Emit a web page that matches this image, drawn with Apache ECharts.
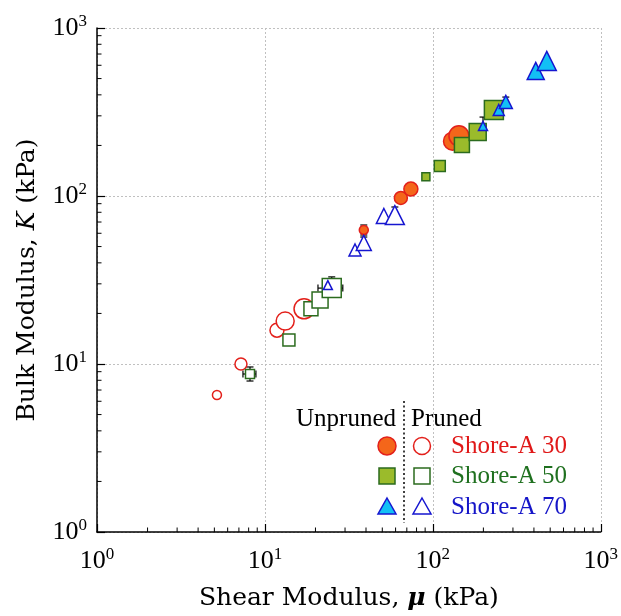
<!DOCTYPE html>
<html><head><meta charset="utf-8">
<script src="https://cdn.jsdelivr.net/npm/echarts@6/dist/echarts.min.js"></script>
<style>html,body{margin:0;padding:0;background:#fff}#c{width:621px;height:616px}</style>
</head><body><div id="c"></div>
<script>
// ---- data (shear modulus mu, bulk modulus K in kPa) ----
const s30UnprunedMu = [38.8, 64.5, 74, 131, 143];
const s30UnprunedK  = [62.8, 97.3, 110, 212, 228];
const s30PrunedMu   = [5.18, 7.2, 11.8, 13.2, 17.1];
const s30PrunedK    = [6.54, 10.0, 15.9, 18.0, 21.3];
const s50UnprunedMu = [90.9, 110, 149, 185, 231];
const s50UnprunedK  = [130, 151, 201, 240, 325];
const s50PrunedMu   = [8.15, 13.9, 18.8, 21.3, 25.0];
const s50PrunedK    = [8.72, 13.9, 21.3, 24.0, 28.3];
const s70UnprunedMu = [199, 247, 272, 410, 477];
const s70UnprunedK  = [261, 325, 363, 555, 637];
const s70PrunedMu   = [23.7, 34.4, 38.8, 51.1, 59.4];
const s70PrunedK    = [29.5, 47.7, 52.5, 76, 77];

// error bars
const errMu   = [8.15, 38.8, 38.8, 25.0, 199, 272, 59.4];
const errK    = [8.72, 62.8, 52.5, 28.3, 261, 363, 77];
const errMuLo = [7.4, null, null, 20.7, null, null, null];
const errMuHi = [8.84, null, null, 29.1, null, null, null];
const errKLo  = [7.92, 58.6, 48.4, 25.5, 248, 345, 72];
const errKHi  = [9.6, 67.2, 57.0, 33.0, 295, 388, 86];

// axis ticks
const axisMin = 1, axisMax = 1000;
const minorTickValues = [2,3,4,5,6,7,8,9,20,30,40,50,60,70,80,90,200,300,400,500,600,700,800,900];

// ---- styles (kept separate) ----
const sizes = {
  s30U: [9, 13, 14, 18, 20], s30P: [9, 12, 14, 18, 20],
  s50U: [8, 11, 15, 17, 19], s50P: [9, 12, 14, 16, 19],
  s70U: [9, 11, 13, 17, 19], s70P: [9, 12, 15, 15, 19]
};
const FONT = '"Liberation Serif", "DejaVu Serif", serif';
const NFONT = '"DejaVu Serif", "Liberation Serif", serif';
const C = {
  orange: '#f4661a', red: '#e3201b', redText: '#e01818',
  green: '#9bbb2b', dgreen: '#2b6b1e', greenText: '#1f701f',
  cyan: '#12c0f5', blue: '#1616d0', blueText: '#1515c8'
};

function pts(xs, ys){ return xs.map((x,i)=>[x, ys[i]]); }
function scat(name, xs, ys, sz, symbol, fill, stroke, z){
  return {
    type:'scatter', name, data: pts(xs, ys), z,
    symbol, symbolSize: (v, p) => sz[p.dataIndex],
    itemStyle: { color: fill, borderColor: stroke, borderWidth: 1.5, opacity: 1 },
    emphasis: { disabled: true }, silent: true
  };
}

const chart = echarts.init(document.getElementById('c'), null, {renderer:'canvas'});

const supLabel = v => {
  const e = Math.round(Math.log10(v));
  return '{b|10}{s|' + e + '}';
};
const labelRich = {
  b: { fontSize: 26, fontFamily: FONT, color: '#000', lineHeight: 30 },
  s: { fontSize: 17, fontFamily: FONT, color: '#000', verticalAlign: 'top', lineHeight: 18 }
};

function baseAxis(){
  return {
    type: 'log', logBase: 10, min: axisMin, max: axisMax,
    axisLine: { show: true, onZero: false, lineStyle: { color: '#000', width: 1.5 } },
    axisTick: { show: true, inside: true, length: 8, lineStyle: { color: '#000', width: 1.2 } },
    splitLine: { show: true, lineStyle: { color: '#c0c0c0', type: [2, 2], width: 1 } },
    axisLabel: { formatter: supLabel, rich: labelRich }
  };
}

const xAxis = Object.assign(baseAxis(), {
  name: '{n|Shear Modulus, }{m|μ}{n| (kPa)}',
  nameLocation: 'middle', nameGap: 54,
  nameTextStyle: { rich: {
    n: { fontSize: 25, fontFamily: NFONT, color: '#000', fontWeight: 300 },
    m: { fontSize: 25, fontFamily: NFONT, color: '#000', fontStyle: 'italic', fontWeight: 'bold' }
  }}
});
xAxis.axisLabel = Object.assign({}, xAxis.axisLabel, { margin: 14 });

const yAxis = Object.assign(baseAxis(), {
  name: '{n|Bulk Modulus, }{m|K}{n| (kPa)}',
  nameLocation: 'middle', nameGap: 57, nameRotate: 90,
  nameTextStyle: { rich: {
    n: { fontSize: 25, fontFamily: NFONT, color: '#000', fontWeight: 300 },
    m: { fontSize: 25, fontFamily: NFONT, color: '#000', fontStyle: 'italic' }
  }}
});
yAxis.axisLabel = Object.assign({}, yAxis.axisLabel, { margin: 10 });

const errSeries = {
  type: 'custom', z: 1, silent: true, clip: false,
  data: errMu.map((m,i)=>[m, errK[i]]),
  renderItem(params, api){
    const i = params.dataIndex;
    const ch = [];
    const st = { stroke: '#000', lineWidth: 1.2 };
    const cap = 3.5;
    if (errKLo[i] != null){
      const a = api.coord([errMu[i], errKLo[i]]), b = api.coord([errMu[i], errKHi[i]]);
      ch.push({type:'line', shape:{x1:a[0],y1:a[1],x2:b[0],y2:b[1]}, style: st});
      ch.push({type:'line', shape:{x1:a[0]-cap,y1:a[1],x2:a[0]+cap,y2:a[1]}, style: st});
      ch.push({type:'line', shape:{x1:b[0]-cap,y1:b[1],x2:b[0]+cap,y2:b[1]}, style: st});
    }
    if (errMuLo[i] != null){
      const a = api.coord([errMuLo[i], errK[i]]), b = api.coord([errMuHi[i], errK[i]]);
      ch.push({type:'line', shape:{x1:a[0],y1:a[1],x2:b[0],y2:b[1]}, style: st});
      ch.push({type:'line', shape:{x1:a[0],y1:a[1]-cap,x2:a[0],y2:a[1]+cap}, style: st});
      ch.push({type:'line', shape:{x1:b[0],y1:b[1]-cap,x2:b[0],y2:b[1]+cap}, style: st});
    }
    return { type:'group', children: ch };
  }
};

const minorX = {
  type:'custom', z: 3, silent: true, clip: false,
  data: minorTickValues.map(v=>[v, axisMin]),
  renderItem(params, api){
    const p = api.coord([api.value(0), api.value(1)]);
    return {type:'line', shape:{x1:p[0], y1:p[1], x2:p[0], y2:p[1]-4.5}, style:{stroke:'#000', lineWidth:1}};
  }
};
const minorY = {
  type:'custom', z: 3, silent: true, clip: false,
  data: minorTickValues.map(v=>[axisMin, v]),
  renderItem(params, api){
    const p = api.coord([api.value(0), api.value(1)]);
    return {type:'line', shape:{x1:p[0], y1:p[1], x2:p[0]+4.5, y2:p[1]}, style:{stroke:'#000', lineWidth:1}};
  }
};

// legend (graphic)
const LX_F = 387, LX_O = 422, LX_T = 451;
const rows = [446, 476, 507];
const legendText = (x, y, text, color, align) => ({
  type:'text', x, y, z: 10,
  style:{ text, fill: color, font: '25px ' + FONT, textAlign: align || 'left', textVerticalAlign: 'middle' }
});
const graphic = [
  legendText(396, 419, 'Unpruned', '#000', 'right'),
  legendText(411, 419, 'Pruned', '#000', 'left'),
  { type:'line', z: 10, shape:{ x1:404, y1:401, x2:404, y2:523 }, style:{ stroke:'#000', lineWidth:1.5, lineDash:[2,2.5] } },
  { type:'circle', z: 10, shape:{ cx:LX_F, cy:rows[0], r:9 }, style:{ fill:C.orange, stroke:C.red, lineWidth:1.5 } },
  { type:'circle', z: 10, shape:{ cx:LX_O, cy:rows[0], r:8.5 }, style:{ fill:'#fff', stroke:C.red, lineWidth:1.5 } },
  legendText(LX_T, rows[0], 'Shore-A 30', C.redText),
  { type:'rect', z: 10, shape:{ x:LX_F-8, y:rows[1]-8, width:16, height:16 }, style:{ fill:C.green, stroke:C.dgreen, lineWidth:1.5 } },
  { type:'rect', z: 10, shape:{ x:LX_O-8, y:rows[1]-8, width:16, height:16 }, style:{ fill:'#fff', stroke:C.dgreen, lineWidth:1.5 } },
  legendText(LX_T, rows[1], 'Shore-A 50', C.greenText),
  { type:'polygon', z: 10, shape:{ points:[[LX_F, rows[2]-9],[LX_F+9, rows[2]+7],[LX_F-9, rows[2]+7]] }, style:{ fill:C.cyan, stroke:C.blue, lineWidth:1.5 } },
  { type:'polygon', z: 10, shape:{ points:[[LX_O, rows[2]-9],[LX_O+9, rows[2]+7],[LX_O-9, rows[2]+7]] }, style:{ fill:'#fff', stroke:C.blue, lineWidth:1.5 } },
  legendText(LX_T, rows[2], 'Shore-A 70', C.blueText)
];

chart.setOption({
  animation: false,
  backgroundColor: '#fff',
  grid: { left: 97, right: 20, top: 28, bottom: 84, containLabel: false },
  xAxis, yAxis,
  graphic,
  series: [
    errSeries, minorX, minorY,
    scat('S30 pruned', s30PrunedMu, s30PrunedK, sizes.s30P, 'circle', '#fff', C.red, 2),
    scat('S30 unpruned', s30UnprunedMu, s30UnprunedK, sizes.s30U, 'circle', C.orange, C.red, 2),
    scat('S50 pruned', s50PrunedMu, s50PrunedK, sizes.s50P, 'rect', '#fff', C.dgreen, 3),
    scat('S50 unpruned', s50UnprunedMu, s50UnprunedK, sizes.s50U, 'rect', C.green, C.dgreen, 3),
    scat('S70 pruned', s70PrunedMu, s70PrunedK, sizes.s70P, 'triangle', '#fff', C.blue, 4),
    scat('S70 unpruned', s70UnprunedMu, s70UnprunedK, sizes.s70U, 'triangle', C.cyan, C.blue, 4)
  ]
});
</script>
</body></html>
